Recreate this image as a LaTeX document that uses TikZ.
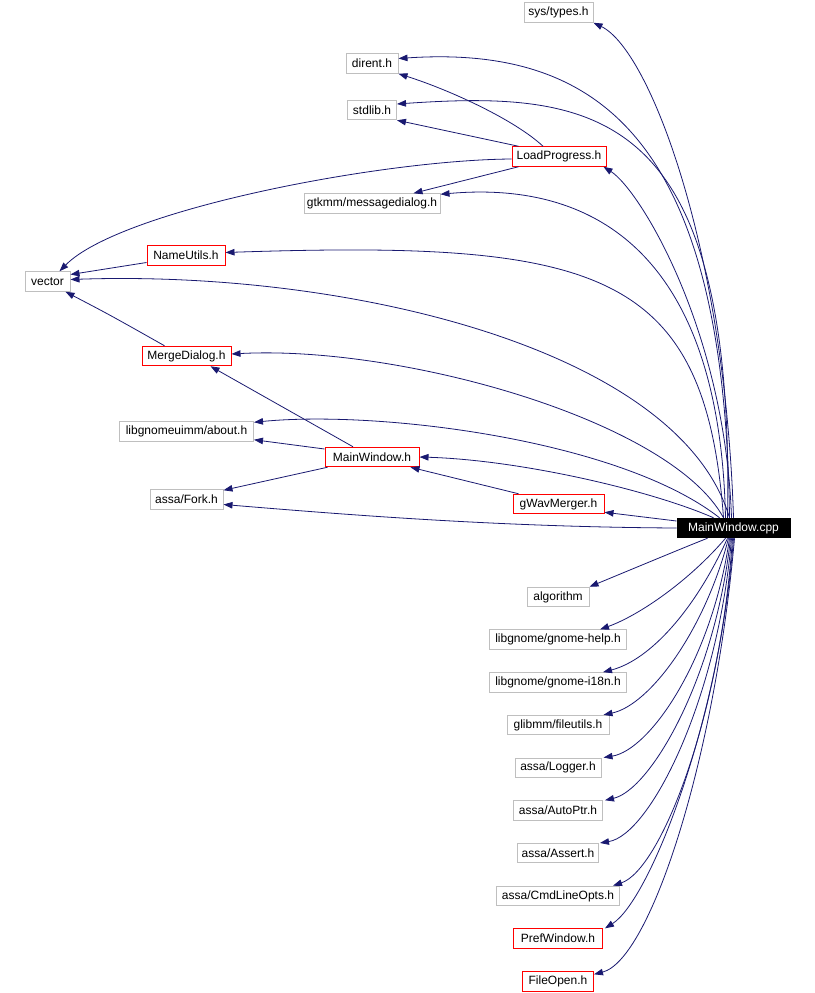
\documentclass[tikz,border=0pt]{standalone}
\usepackage{fontspec}
\setmainfont{Liberation Sans}
\usetikzlibrary{arrows.meta,positioning}
\definecolor{edgeblue}{RGB}{25,25,112}
\definecolor{boxgray}{RGB}{191,191,191}
\tikzset{
  hdr/.style={draw=boxgray, line width=1pt, rectangle, inner sep=0pt,
    minimum height=19.5pt, font=\fontsize{12}{14}\selectfont},
  doc/.style={hdr, draw=red},
  cur/.style={hdr, draw=black, fill=black, text=white},
  dep/.style={->, draw=edgeblue, line width=0.8pt},
}
\begin{document}
\begin{tikzpicture}[x=1pt, y=-1pt, node distance=42.7pt,
    >={Triangle[length=9pt,width=6.5pt]}]
  \useasboundingbox (0,0) rectangle (814,993);
  % the file itself
  \node (cpp) [cur, minimum width=113pt] at (733.5,528) {MainWindow.cpp};
  % headers above
  \node (sys) [hdr, minimum width=69pt] at (558.5,12.5) {sys/types.h};
  \node (dirent) [hdr, minimum width=52pt] at (372,63.5) {dirent.h};
  \node (stdlib) [hdr, minimum width=49pt] at (372,110) {stdlib.h};
  \node (load) [doc, minimum width=94pt] at (559,156.5) {LoadProgress.h};
  \node (msgdlg) [hdr, minimum width=136pt] at (372,203.5) {gtkmm/messagedialog.h};
  \node (names) [doc, minimum width=78pt] at (186,255.5) {NameUtils.h};
  \node (vector) [hdr, minimum width=45pt] at (47.5,281.5) {vector};
  \node (merge) [doc, minimum width=89pt] at (186.5,356) {MergeDialog.h};
  \node (about) [hdr, minimum width=134pt] at (186.5,431.5) {libgnomeuimm/about.h};
  \node (mwin) [doc, minimum width=94pt] at (372,457) {MainWindow.h};
  \node (fork) [hdr, minimum width=73pt] at (186.5,499.5) {assa/Fork.h};
  \node (wav) [doc, minimum width=91pt] at (558.5,504) {gWavMerger.h};
  % headers below
  \node (algo) [hdr, minimum width=62pt] at (558,597) {algorithm};
  \node (help) [hdr, minimum width=137pt, below of=algo] {libgnome/gnome-help.h};
  \node (i18n) [hdr, minimum width=137pt, below of=help] {libgnome/gnome-i18n.h};
  \node (futil) [hdr, minimum width=102pt, below of=i18n] {glibmm/fileutils.h};
  \node (logger) [hdr, minimum width=86pt, below of=futil] {assa/Logger.h};
  \node (aptr) [hdr, minimum width=89pt, below of=logger] {assa/AutoPtr.h};
  \node (assert) [hdr, minimum width=81pt, below of=aptr] {assa/Assert.h};
  \node (opts) [hdr, minimum width=123pt, below of=assert] {assa/CmdLineOpts.h};
  \node (pref) [doc, minimum width=89pt, below of=opts] {PrefWindow.h};
  \node (fopen) [doc, minimum width=71pt, below of=pref] {FileOpen.h};

  % MainWindow.cpp, upwards
  \draw[dep] (cpp.north) .. controls (725,250) and (650,50) .. (sys.south east);
  \draw[dep] ([xshift=-4pt]cpp.north) .. controls (725,140) and (600,45) .. ([yshift=5pt]dirent.east);
  \draw[dep] ([xshift=-6pt]cpp.north) .. controls (735,110) and (600,90) .. ([yshift=6pt]stdlib.east);
  \draw[dep] ([xshift=-2pt]cpp.north) .. controls (725,330) and (640,190) .. ([xshift=-3pt]load.south east);
  \draw[dep] ([xshift=-8pt]cpp.north) .. controls (720,260) and (600,180) .. ([yshift=-1pt]msgdlg.north east);
  \draw[dep] ([xshift=-10pt]cpp.north) .. controls (705,270) and (600,240) .. ([yshift=3pt]names.east);
  \draw[dep] ([xshift=-4pt]cpp.north) .. controls (680,350) and (350,270) .. ([yshift=2pt]vector.east);
  \draw[dep] ([xshift=-10pt]cpp.north) .. controls (670,420) and (400,345) .. ([yshift=2pt]merge.east);
  \draw[dep] ([xshift=-14pt]cpp.north) .. controls (620,440) and (380,410) .. ([yshift=-1pt]about.north east);
  \draw[dep] ([xshift=-20pt]cpp.north) .. controls (650,490) and (520,460) .. (mwin.east);
  \draw[dep] (cpp.west) .. controls (500,527) and (350,515) .. ([yshift=-5pt]fork.east);
  \draw[dep] ([yshift=7pt]cpp.west) -- ([yshift=2pt]wav.south east);
  % MainWindow.cpp, downwards
  \draw[dep] ([xshift=-26pt]cpp.south) .. controls (690,545) and (630,570) .. (algo.north east);
  \draw[dep] ([xshift=-8pt]cpp.south) .. controls (690,580) and (640,615) .. ([xshift=-27pt]help.north east);
  \draw[dep] ([xshift=-6pt]cpp.south) .. controls (695,610) and (650,660) .. ([xshift=-24pt]i18n.north east);
  \draw[dep] ([xshift=-5pt]cpp.south) .. controls (705,630) and (650,705) .. ([xshift=-6pt]futil.north east);
  \draw[dep] ([xshift=-4pt]cpp.south) .. controls (712,660) and (650,750) .. ([xshift=2pt]logger.north east);
  \draw[dep] ([xshift=-3pt]cpp.south) .. controls (715,680) and (650,790) .. ([xshift=2pt]aptr.north east);
  \draw[dep] ([xshift=-2pt]cpp.south) .. controls (718,700) and (650,835) .. ([xshift=1pt]assert.north east);
  \draw[dep] ([xshift=-1pt]cpp.south) .. controls (720,720) and (660,870) .. ([xshift=-7pt]opts.north east);
  \draw[dep] (cpp.south) .. controls (720,720) and (650,900) .. ([xshift=2pt]pref.north east);
  \draw[dep] ([xshift=1pt]cpp.south) .. controls (715,760) and (650,960) .. ([yshift=7pt]fopen.east);
  % includes of the other headers
  \draw[dep] ([xshift=-16pt]load.north) .. controls (515,120) and (450,90) .. (dirent.south east);
  \draw[dep] ([xshift=7pt]load.north west) -- (stdlib.south east);
  \draw[dep] ([xshift=7pt]load.south west) -- ([xshift=-27pt]msgdlg.north east);
  \draw[dep] ([yshift=-2.5pt]load.west) .. controls (380,160) and (120,210) .. ([xshift=12pt]vector.north);
  \draw[dep] ([yshift=-7pt]names.west) -- ([yshift=7pt]vector.east);
  \draw[dep] ([xshift=-22pt]merge.north) .. controls (110,315) .. ([xshift=18pt]vector.south);
  \draw[dep] ([xshift=-19pt]mwin.north) -- ([xshift=24pt]merge.south);
  \draw[dep] ([yshift=8pt]mwin.west) -- ([yshift=2pt]about.south east);
  \draw[dep] ([xshift=3pt]mwin.south west) -- ([yshift=-1pt]fork.north east);
  \draw[dep] ([xshift=6pt]wav.north west) -- ([xshift=-9pt]mwin.south east);
\end{tikzpicture}
\end{document}
